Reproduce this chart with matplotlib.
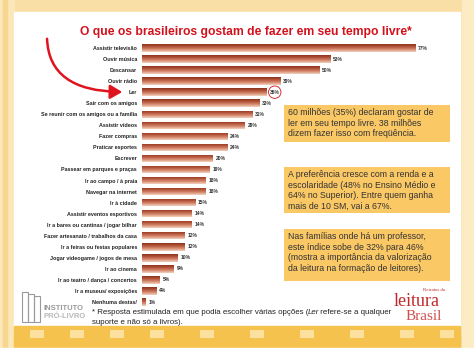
import numpy as np
import matplotlib
matplotlib.use("Agg")
import matplotlib.pyplot as plt
from matplotlib.patches import Rectangle, FancyArrowPatch
from matplotlib.colors import LinearSegmentedColormap

categories = [
    "Assistir televisão", "Ouvir música", "Descansar", "Ouvir rádio", "Ler",
    "Sair com os amigos", "Se reunir com os amigos ou a família", "Assistir vídeos",
    "Fazer compras", "Praticar esportes", "Escrever", "Passear em parques e praças",
    "Ir ao campo / à praia", "Navegar na internet", "Ir à cidade",
    "Assistir eventos esportivos", "Ir a bares ou cantinas / jogar bilhar",
    "Fazer artesanato / trabalhos da casa", "Ir a feiras ou festas populares",
    "Jogar videogame / jogos de mesa", "Ir ao cinema", "Ir ao teatro / dança / concertos",
    "Ir a museus/ exposições", "Nenhuma destas/",
]
values = [77, 53, 50, 39, 35, 33, 31, 29, 24, 24, 20, 19, 18, 18, 15, 14, 14, 12, 12, 10, 9, 5, 4, 1]
highlight = "Ler"

title = "O que os brasileiros gostam de fazer em seu tempo livre*"
notes = [
    "60 milhões (35%) declaram gostar de\nler em seu tempo livre. 38 milhões\ndizem fazer isso com freqüência.",
    "A preferência cresce com a renda e a\nescolaridade (48% no Ensino Médio e\n64% no Superior). Entre quem ganha\nmais de 10 SM, vai a 67%.",
    "Nas famílias onde há um professor,\neste índice sobe de 32% para 46%\n(mostra a importância da valorização\nda leitura na formação de leitores).",
]

W, H = 474, 356
plt.rcParams['font.family'] = ['Liberation Sans', 'DejaVu Sans']


def fx(x):
    return x / W


def fy(y):
    return 1 - y / H


fig = plt.figure(figsize=(W / 100, H / 100), dpi=100, facecolor='#f9dfa6')

# slide background
bg = fig.add_axes([0, 0, 1, 1])
bg.set_xlim(0, W)
bg.set_ylim(H, 0)
bg.axis('off')
bg.add_patch(Rectangle((0, 0), W, H, color='#f9dfa6'))
bg.add_patch(Rectangle((0, 0), 14, H, color='#fbe7b8'))
bg.add_patch(Rectangle((3, 0), 4, H, color='#f7d690'))
bg.add_patch(Rectangle((462, 0), 12, H, color='#fcecc4'))
bg.add_patch(Rectangle((14, 12), 446, 320, color='white'))
bg.add_patch(Rectangle((14, 326), 446, 22, color='#f6c24e'))
for xs in [30, 70, 110, 150, 200, 250, 300, 350, 400, 440]:
    bg.add_patch(Rectangle((xs, 330), 14, 8, color='#fbe0a0', lw=0))
bg.add_patch(Rectangle((0, 348), W, 8, color='white'))

# text boxes
for (y0, y1), txt in zip([(105, 142), (167, 213), (229, 281)], notes):
    bg.add_patch(Rectangle((284, y0), 166, y1 - y0, color='#fbc866', lw=0))
    bg.text(288, y0 + 3, txt, fontsize=6.3, color='#333333', va='top', ha='left',
            linespacing=1.25)

# footnote with italic "Ler"
fs = 5.7
t1 = fig.text(fx(92), fy(312), "* Resposta estimulada em que podia escolher várias opções (",
              fontsize=fs, color='#222222', va='center')
fig.text(fx(92), fy(322), "suporte e não só a livros).", fontsize=fs, color='#222222', va='center')
fig.canvas.draw()
xe = t1.get_window_extent().x1
t2 = fig.text((xe - 1) / W, fy(312), "Ler", fontsize=fs, style='italic', color='#222222',
              va='center')
fig.canvas.draw()
xe2 = t2.get_window_extent().x1
fig.text((xe2 - 1) / W, fy(312), " refere-se a qualquer", fontsize=fs, color='#222222',
         va='center')

# logos
for i, xo in enumerate([22, 28, 34]):
    bg.add_patch(Rectangle((xo, 292 + i * 2), 6, 30 - i * 2, fill=False, ec='#9a9a9a', lw=0.8))
bg.text(44, 308, "INSTITUTO", fontsize=5.5, color='#999999', va='center', fontweight='bold')
bg.text(44, 316, "PRÓ-LIVRO", fontsize=5.5, color='#b8b8b8', va='center', fontweight='bold')
bg.text(445, 291, "Retratos da", fontsize=3.5, color='#c0282a', ha='right', family='Liberation Serif')
bg.text(417, 302, "leitura", fontsize=13, color='#c0282a', ha='center', va='center',
        family='Liberation Serif')
bg.text(424, 317, "Brasil", fontsize=11, color='#d05050', ha='center', va='center',
        family='Liberation Serif')

# title
fig.text(fx(246), fy(32), title, fontsize=8.7, fontweight='bold', color='#d4101c',
         ha='center', va='center')

# bar chart
row0, rowN = 48, 302
step = (rowN - row0) / (len(values) - 1)
top = row0 - step / 2
bottom = rowN + step / 2
left = 142
ppu = 3.55
width = 300
ax = fig.add_axes([fx(left), fy(bottom), width / W, (bottom - top) / H])
ax.set_facecolor('none')

cmap = LinearSegmentedColormap.from_list('bar', ['#8c321e', '#b4553a', '#d58a70', '#f4d2c0'])
grad = np.linspace(0, 1, 64).reshape(-1, 1)
ypos = np.arange(len(values))
bar_h = 0.68
bars = ax.barh(ypos, values, height=bar_h, color='#c06a50', lw=0)
for b, v, y in zip(bars, values, ypos):
    im = ax.imshow(grad, cmap=cmap, aspect='auto', interpolation='bilinear',
                   extent=(0, v, y + bar_h / 2, y - bar_h / 2), origin='upper', zorder=3)
    im.set_clip_path(b)

for v, y, c in zip(values, ypos, categories):
    if c == highlight:
        ax.text(v + 1.0, y, f"{v}%", fontsize=3.6, fontweight='bold', va='center', ha='left',
                color='#333333', zorder=4,
                bbox=dict(boxstyle='circle,pad=0.25', fc='white', ec='#d4101c', lw=0.6))
    else:
        ax.text(v + 0.8, y, f"{v}%", fontsize=3.6, fontweight='bold', va='center', ha='left',
                color='#333333', zorder=4)

ax.set_xlim(0, width / ppu)
ax.set_ylim(len(values) - 0.5, -0.5)
ax.set_yticks(ypos)
ax.set_yticklabels(categories, fontsize=3.9, fontweight='bold', color='#222222')
ax.tick_params(axis='y', length=0, pad=3.6)
ax.set_xticks([])
for s in ax.spines.values():
    s.set_visible(False)

# red arrow pointing to "Ler"
arrow = FancyArrowPatch((fx(47), fy(36)), (fx(125), fy(92)), transform=fig.transFigure,
                        connectionstyle="angle3,angleA=90,angleB=0",
                        arrowstyle="-|>,head_length=0.6,head_width=0.35",
                        mutation_scale=12, color='#e0141e', lw=1.8)
fig.add_artist(arrow)

fig.savefig("out.png", dpi=100, facecolor=fig.get_facecolor())
